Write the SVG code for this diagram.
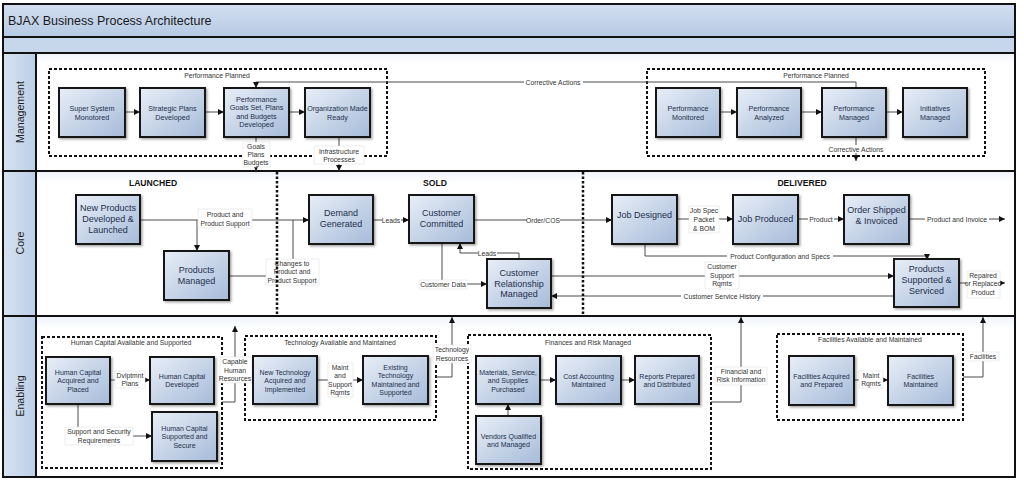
<svg xmlns="http://www.w3.org/2000/svg" width="1024" height="484" viewBox="0 0 1024 484">
<defs>
<linearGradient id="boxG" x1="0" y1="0" x2="1" y2="1"><stop offset="0" stop-color="#e8eef7"/><stop offset="1" stop-color="#a6bbd9"/></linearGradient>
<linearGradient id="titleG" x1="0" y1="0" x2="0" y2="1"><stop offset="0" stop-color="#d2def0"/><stop offset="1" stop-color="#b6cae4"/></linearGradient>
<linearGradient id="hdrG" x1="0" y1="0" x2="1" y2="0"><stop offset="0" stop-color="#d7e2f1"/><stop offset="1" stop-color="#bccfe7"/></linearGradient>
<linearGradient id="laneG" x1="0" y1="0" x2="0" y2="1"><stop offset="0" stop-color="#eef3fa"/><stop offset="0.08" stop-color="#ffffff"/><stop offset="1" stop-color="#ffffff"/></linearGradient>
<filter id="sh" x="-10%" y="-10%" width="130%" height="130%"><feDropShadow dx="1.5" dy="1.5" stdDeviation="0.8" flood-color="#000" flood-opacity="0.35"/></filter>
<marker id="ah" viewBox="0 0 10 10" refX="10" refY="5" markerWidth="6" markerHeight="6" markerUnits="userSpaceOnUse" orient="auto"><path d="M0,0 L10,5 L0,10z" fill="#111"/></marker>
<style>
.box{fill:url(#boxG);stroke:#161616;stroke-width:2;filter:url(#sh)}
.grp{fill:none;stroke:#111;stroke-width:2;stroke-dasharray:3 2}
.sec{stroke:#111;stroke-width:2.5;stroke-dasharray:2.5 2;fill:none}
.ln{fill:none;stroke:#111;stroke-width:2}
.c{fill:none;stroke:#4a4a4a;stroke-width:1}
.a{marker-end:url(#ah)}
.bg{fill:#fff;stroke:#e2e2e2;stroke-width:0.6}
text{font-family:"Liberation Sans",Arial,sans-serif}
.t{font-size:7.2px;fill:#1e2f4c;text-anchor:middle}
.tc{font-size:9px;fill:#1e2f4c;text-anchor:middle}
.te{font-size:7px;fill:#1e2f4c;text-anchor:middle}
.l{font-size:6.8px;fill:#333;text-anchor:middle}
.g{font-size:6.8px;fill:#333;text-anchor:middle}
.s{font-size:8.6px;font-weight:bold;fill:#111;text-anchor:middle}
.h{font-size:10.6px;fill:#222;text-anchor:middle}
</style>
</defs>

<g id="frame">
<rect x="3" y="4" width="1012" height="473" fill="#fff"/>
<rect x="3" y="4" width="1012" height="33" fill="url(#titleG)"/>
<rect x="3" y="37" width="1012" height="16" fill="#c6d6eb"/>
<rect x="36" y="53" width="979" height="118" fill="url(#laneG)"/>
<rect x="36" y="171" width="979" height="145" fill="url(#laneG)"/>
<rect x="36" y="316" width="979" height="161" fill="url(#laneG)"/>
<rect x="3" y="53" width="33" height="424" fill="url(#hdrG)"/>
<text x="8" y="24.5" style="font-size:12.5px;fill:#1a1a1a">BJAX Business Process Architecture</text>
<text class="h" transform="translate(23.5,112) rotate(-90)">Management</text>
<text class="h" transform="translate(23.5,243) rotate(-90)">Core</text>
<text class="h" transform="translate(23.5,396) rotate(-90)">Enabling</text>
<path class="ln" d="M3,37 H1015 M3,53 H1015 M3,171 H1015 M3,316 H1015 M36,53 V477"/>
<rect x="3" y="4" width="1012" height="473" class="ln"/>
</g>

<g id="groups">
<rect class="grp" x="49" y="69" width="338" height="87"/>
<text class="g" x="217" y="77.5">Performance Planned</text>
<rect class="grp" x="647" y="69" width="338" height="87"/>
<text class="g" x="816" y="77.5">Performance Planned</text>
<rect class="grp" x="42" y="337" width="180" height="131"/>
<text class="g" x="131" y="344.5">Human Capital Available and Supported</text>
<rect class="grp" x="245" y="336" width="191" height="84"/>
<text class="g" x="340" y="344.5">Technology Available and Maintained</text>
<rect class="grp" x="468" y="335" width="243" height="134"/>
<text class="g" x="588" y="344.5">Finances and Risk Managed</text>
<rect class="grp" x="777" y="334" width="186" height="86"/>
<text class="g" x="870" y="341.5">Facilities Available and Maintained</text>
</g>

<g id="connectors">
<!-- management -->
<path class="c a" d="M125,112 H140"/>
<path class="c a" d="M205,112 H224"/>
<path class="c a" d="M289,112 H305"/>
<path class="c a" d="M720,112 H737"/>
<path class="c a" d="M801,112 H822"/>
<path class="c a" d="M886,112 H903"/>
<path class="c a" d="M856,88 V82 H256 V88"/>
<rect class="bg" x="524" y="78" width="59" height="8" style="stroke:none"/>
<text class="l" x="553" y="84.5">Corrective Actions</text>
<path class="c a" d="M856,137 V161"/>
<rect class="bg" x="826" y="145" width="60" height="8" style="stroke:none"/>
<text class="l" x="856" y="151.5">Corrective Actions</text>
<path class="c a" d="M256,137 V171"/>
<rect class="bg" x="243" y="142" width="27" height="25"/>
<text class="l" x="256" y="148.5">Goals</text>
<text class="l" x="256" y="156.5">Plans</text>
<text class="l" x="256" y="165">Budgets</text>
<path class="c a" d="M339,137 V171"/>
<rect class="bg" x="314" y="146" width="50" height="18"/>
<text class="l" x="339" y="153.5">Infrastructure</text>
<text class="l" x="339" y="161.5">Processes</text>
<!-- core -->
<path class="c a" d="M140,220 H309"/>
<path class="c a" d="M197,220 V251"/>
<path class="c" d="M229,276 H293 V220"/>
<rect class="bg" x="198" y="209" width="54" height="19"/>
<text class="l" x="225" y="216.5">Product and</text>
<text class="l" x="225" y="225.5">Product Support</text>
<rect class="bg" x="266" y="259" width="53" height="26"/>
<text class="l" x="292" y="265.5">Changes to</text>
<text class="l" x="292" y="274">Product and</text>
<text class="l" x="292" y="282.5">Product Support</text>
<path class="c a" d="M373,220 H409"/>
<rect class="bg" x="382" y="216" width="19" height="8" style="stroke:none"/>
<text class="l" x="391" y="222.5">Leads</text>
<path class="c a" d="M474,220 H612"/>
<rect class="bg" x="527" y="216" width="33" height="8" style="stroke:none"/>
<text class="l" x="543" y="222.5">Order/COS</text>
<path class="c a" d="M519,259 V253 H460 V243"/>
<rect class="bg" x="478" y="249" width="19" height="8" style="stroke:none"/>
<text class="l" x="487" y="255.5">Leads</text>
<path class="c a" d="M442,243 V284 H487"/>
<rect class="bg" x="419" y="280" width="48" height="9"/>
<text class="l" x="443" y="286.5">Customer Data</text>
<path class="c a" d="M677,219 H733"/>
<rect class="bg" x="689" y="206" width="30" height="27"/>
<text class="l" x="704" y="212.5">Job Spec</text>
<text class="l" x="704" y="221.5">Packet</text>
<text class="l" x="704" y="230.5">&amp; BOM</text>
<path class="c a" d="M798,219 H844"/>
<rect class="bg" x="808" y="215" width="26" height="8" style="stroke:none"/>
<text class="l" x="821" y="221.5">Product</text>
<path class="c a" d="M909,219 H1005"/>
<rect class="bg" x="925" y="215" width="64" height="8" style="stroke:none"/>
<text class="l" x="957" y="221.5">Product and Invoice</text>
<path class="c a" d="M645,244 V256 H927 V260"/>
<rect class="bg" x="727" y="252" width="106" height="8" style="stroke:none"/>
<text class="l" x="780" y="258.5">Product Configuration and Specs</text>
<path class="c a" d="M551,276 H894"/>
<rect class="bg" x="705" y="262" width="34" height="27"/>
<text class="l" x="722" y="268.5">Customer</text>
<text class="l" x="722" y="277.5">Support</text>
<text class="l" x="722" y="286">Rqmts</text>
<path class="c a" d="M894,296 H551"/>
<rect class="bg" x="681" y="292" width="82" height="8" style="stroke:none"/>
<text class="l" x="722" y="298.5">Customer Service History</text>
<path class="c a" d="M959,283 H1005"/>
<rect class="bg" x="967" y="271" width="33" height="27"/>
<text class="l" x="983" y="277.5">Repaired</text>
<text class="l" x="983" y="286">or Replaced</text>
<text class="l" x="983" y="294.5">Product</text>
<!-- enabling -->
<path class="c a" d="M110,380 H150"/>
<rect class="bg" x="115" y="371" width="30" height="17"/>
<text class="l" x="130" y="378">Dvlptmnt</text>
<text class="l" x="130" y="386">Plans</text>
<path class="c a" d="M78,404 V436 H152"/>
<rect class="bg" x="65" y="427" width="68" height="18"/>
<text class="l" x="99" y="434">Support and Security</text>
<text class="l" x="99" y="442.5">Requirements</text>
<path class="c a" d="M222,402 H235 V326"/>
<rect class="bg" x="220" y="357" width="32" height="26"/>
<text class="l" x="235" y="364">Capable</text>
<text class="l" x="235" y="372.5">Human</text>
<text class="l" x="235" y="381">Resources</text>
<path class="c a" d="M317,380 H363"/>
<rect class="bg" x="328" y="363" width="25" height="34"/>
<text class="l" x="340" y="369.5">Maint</text>
<text class="l" x="340" y="378">and</text>
<text class="l" x="340" y="386.5">Support</text>
<text class="l" x="340" y="395">Rqmts</text>
<path class="c a" d="M436,377 H452 V317"/>
<rect class="bg" x="433" y="345" width="38" height="18"/>
<text class="l" x="452" y="352">Technology</text>
<text class="l" x="452" y="361">Resources</text>
<path class="c a" d="M540,380 H556"/>
<path class="c a" d="M621,380 H635"/>
<path class="c a" d="M508,416 V404"/>
<path class="c a" d="M711,402 H741 V317"/>
<rect class="bg" x="715" y="367" width="52" height="18"/>
<text class="l" x="741" y="373.5">Financial and</text>
<text class="l" x="741" y="382">Risk Information</text>
<path class="c a" d="M854,380 H888"/>
<rect class="bg" x="859" y="371" width="24" height="17"/>
<text class="l" x="871" y="377.5">Maint</text>
<text class="l" x="871" y="386">Rqmts</text>
<path class="c a" d="M963,377 H983 V317"/>
<rect class="bg" x="967" y="352" width="32" height="9"/>
<text class="l" x="983" y="358.5">Facilities</text>
</g>

<g id="sections">
<path class="sec" d="M277,172 V315"/>
<path class="sec" d="M583,172 V315"/>
<text class="s" x="153" y="186">LAUNCHED</text>
<text class="s" x="435" y="186">SOLD</text>
<text class="s" x="802" y="186">DELIVERED</text>
</g>

<g id="n-super-system"><rect class="box" x="59" y="88" width="66" height="49"/><text class="t" x="92" y="110.5">Super System</text><text class="t" x="92" y="119.5">Monotored</text></g>
<g id="n-strategic-plans"><rect class="box" x="140" y="88" width="65" height="49"/><text class="t" x="172.5" y="110.5">Strategic Plans</text><text class="t" x="172.5" y="119.5">Developed</text></g>
<g id="n-performance-goals"><rect class="box" x="224" y="88" width="65" height="49"/><text class="t" x="256.5" y="101.5">Performance</text><text class="t" x="256.5" y="110">Goals Set, Plans</text><text class="t" x="256.5" y="118.5">and Budgets</text><text class="t" x="256.5" y="127">Developed</text></g>
<g id="n-organization-ready"><rect class="box" x="305" y="88" width="65" height="49"/><text class="t" x="337.5" y="110.5">Organization Made</text><text class="t" x="337.5" y="119.5">Ready</text></g>
<g id="n-performance-monitored"><rect class="box" x="656" y="88" width="64" height="49"/><text class="t" x="688" y="110.5">Performance</text><text class="t" x="688" y="119.5">Monitored</text></g>
<g id="n-performance-analyzed"><rect class="box" x="737" y="88" width="64" height="49"/><text class="t" x="769" y="110.5">Performance</text><text class="t" x="769" y="119.5">Analyzed</text></g>
<g id="n-performance-managed"><rect class="box" x="822" y="88" width="64" height="49"/><text class="t" x="854" y="110.5">Performance</text><text class="t" x="854" y="119.5">Managed</text></g>
<g id="n-initiatives-managed"><rect class="box" x="903" y="88" width="64" height="49"/><text class="t" x="935" y="110.5">Initiatives</text><text class="t" x="935" y="119.5">Managed</text></g>

<g id="n-new-products"><rect class="box" x="76" y="195" width="64" height="49"/><text class="tc" x="108" y="211">New Products</text><text class="tc" x="108" y="222">Developed &amp;</text><text class="tc" x="108" y="233">Launched</text></g>
<g id="n-products-managed"><rect class="box" x="164" y="251" width="65" height="49"/><text class="tc" x="196.5" y="273">Products</text><text class="tc" x="196.5" y="284">Managed</text></g>
<g id="n-demand-generated"><rect class="box" x="309" y="195" width="64" height="49"/><text class="tc" x="341" y="216">Demand</text><text class="tc" x="341" y="227">Generated</text></g>
<g id="n-customer-committed"><rect class="box" x="409" y="195" width="65" height="48"/><text class="tc" x="441.5" y="216">Customer</text><text class="tc" x="441.5" y="227">Committed</text></g>
<g id="n-crm"><rect class="box" x="487" y="259" width="64" height="49"/><text class="tc" x="519" y="276">Customer</text><text class="tc" x="519" y="286.5">Relationship</text><text class="tc" x="519" y="297">Managed</text></g>
<g id="n-job-designed"><rect class="box" x="612" y="195" width="65" height="49"/><text class="tc" x="644.5" y="218">Job Designed</text></g>
<g id="n-job-produced"><rect class="box" x="733" y="195" width="65" height="49"/><text class="tc" x="765.5" y="222">Job Produced</text></g>
<g id="n-order-shipped"><rect class="box" x="844" y="195" width="65" height="49"/><text class="tc" x="876.5" y="212.5">Order Shipped</text><text class="tc" x="876.5" y="224">&amp; Invoiced</text></g>
<g id="n-products-supported"><rect class="box" x="894" y="259" width="65" height="48"/><text class="tc" x="926.5" y="271.5">Products</text><text class="tc" x="926.5" y="282.5">Supported &amp;</text><text class="tc" x="926.5" y="293.5">Serviced</text></g>

<g id="n-hc-acquired"><rect class="box" x="46" y="357" width="64" height="47"/><text class="te" x="78" y="374.5">Human Capital</text><text class="te" x="78" y="383">Acquired and</text><text class="te" x="78" y="391.5">Placed</text></g>
<g id="n-hc-developed"><rect class="box" x="150" y="357" width="64" height="47"/><text class="te" x="182" y="378.5">Human Capital</text><text class="te" x="182" y="387">Developed</text></g>
<g id="n-hc-supported"><rect class="box" x="152" y="412" width="65" height="49"/><text class="te" x="184.5" y="430.5">Human Capital</text><text class="te" x="184.5" y="439">Supported and</text><text class="te" x="184.5" y="447.5">Secure</text></g>
<g id="n-new-technology"><rect class="box" x="253" y="356" width="64" height="48"/><text class="te" x="285" y="374.5">New Technology</text><text class="te" x="285" y="383">Acquired and</text><text class="te" x="285" y="391.5">Implemented</text></g>
<g id="n-existing-technology"><rect class="box" x="363" y="356" width="65" height="48"/><text class="te" x="395.5" y="369.5">Existing</text><text class="te" x="395.5" y="378">Technology</text><text class="te" x="395.5" y="386.5">Maintained and</text><text class="te" x="395.5" y="395">Supported</text></g>
<g id="n-materials"><rect class="box" x="476" y="356" width="64" height="48"/><text class="te" x="508" y="374.5">Materials, Service,</text><text class="te" x="508" y="383">and Supplies</text><text class="te" x="508" y="391.5">Purchased</text></g>
<g id="n-cost-accounting"><rect class="box" x="556" y="356" width="65" height="48"/><text class="te" x="588.5" y="378.5">Cost Accounting</text><text class="te" x="588.5" y="387">Maintained</text></g>
<g id="n-reports"><rect class="box" x="635" y="356" width="64" height="48"/><text class="te" x="667" y="378.5">Reports Prepared</text><text class="te" x="667" y="387">and Distributed</text></g>
<g id="n-vendors"><rect class="box" x="476" y="416" width="65" height="48"/><text class="te" x="508.5" y="438.5">Vendors Qualified</text><text class="te" x="508.5" y="447">and Managed</text></g>
<g id="n-facilities-acquired"><rect class="box" x="789" y="356" width="65" height="49"/><text class="te" x="821.5" y="378.5">Facilities Acquired</text><text class="te" x="821.5" y="387">and Prepared</text></g>
<g id="n-facilities-maintained"><rect class="box" x="888" y="356" width="65" height="49"/><text class="te" x="920.5" y="378.5">Facilities</text><text class="te" x="920.5" y="387">Maintained</text></g>
</svg>
